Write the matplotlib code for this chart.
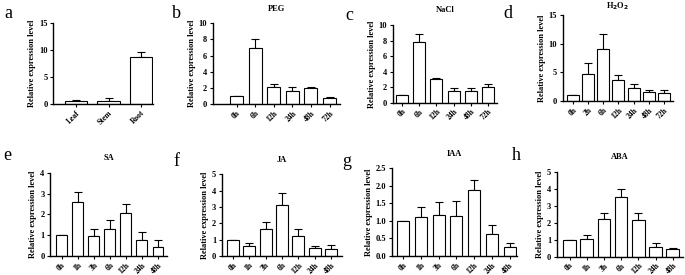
import numpy as np
import matplotlib
matplotlib.use("Agg")
import matplotlib.pyplot as plt

plt.rcParams['font.family'] = ['Liberation Serif', 'DejaVu Serif']

# --- data ---
tissue_labels = ['Leaf', 'Stem', 'Root']
tissue_mean = [0.6, 0.6, 8.65]
tissue_err = [0.1, 0.45, 0.9]

peg_labels = ['0h', '6h', '12h', '24h', '48h', '72h']
peg_mean = [1.0, 7.0, 2.05, 1.55, 1.95, 0.75]
peg_err = [0.0, 1.0, 0.45, 0.5, 0.1, 0.15]

nacl_labels = ['0h', '6h', '12h', '24h', '48h', '72h']
nacl_mean = [1.0, 7.8, 3.05, 1.5, 1.55, 2.0]
nacl_err = [0.0, 1.05, 0.15, 0.45, 0.4, 0.4]

h2o2_labels = ['0h', '2h', '6h', '12h', '24h', '48h', '72h']
h2o2_mean = [1.0, 4.7, 9.1, 3.6, 2.2, 1.5, 1.45]
h2o2_err = [0.0, 1.9, 2.5, 0.9, 0.75, 0.4, 0.45]

hormone_labels = ['0h', '1h', '3h', '6h', '12h', '24h', '48h']
sa_mean = [1.0, 2.57, 0.97, 1.3, 2.08, 0.75, 0.45]
sa_err = [0.0, 0.5, 0.33, 0.45, 0.4, 0.42, 0.3]
ja_mean = [1.0, 0.62, 1.68, 3.15, 1.2, 0.47, 0.4]
ja_err = [0.0, 0.16, 0.42, 0.72, 0.47, 0.15, 0.28]
iaa_mean = [1.0, 1.1, 1.17, 1.15, 1.87, 0.62, 0.25]
iaa_err = [0.0, 0.3, 0.36, 0.43, 0.31, 0.26, 0.13]
aba_mean = [1.0, 1.05, 2.2, 3.5, 2.18, 0.57, 0.47]
aba_err = [0.0, 0.22, 0.35, 0.5, 0.39, 0.23, 0.05]

# panel: letter, title, labels, mean, err, ylim top, y step, tick fmt,
#        axes rect in px (left, top, right, bottom), xlim, bar width, letter pos px, title pad
panels = [
    ('a', '', tissue_labels, tissue_mean, tissue_err, 15, 5, '%d',
     (53, 23, 153, 104), (-0.71, 2.37), 0.68, (4, 13), 9),
    ('b', 'PEG', peg_labels, peg_mean, peg_err, 10, 2, '%d',
     (212.7, 23.3, 340, 104), (-1.28, 5.56), 0.7, (172, 13), 9),
    ('c', 'NaCl', nacl_labels, nacl_mean, nacl_err, 10, 2, '%d',
     (392.7, 25, 497, 102.7), (-0.54, 5.52), 0.7, (345, 15), 9),
    ('d', r'H$_\mathbf{2}$O$_\mathbf{2}$', h2o2_labels, h2o2_mean, h2o2_err, 15, 5, '%d',
     (562.7, 15, 673, 101), (-0.68, 6.6), 0.79, (503, 13), 5),
    ('e', 'SA', hormone_labels, sa_mean, sa_err, 4, 1, '%d',
     (50, 172.7, 167, 256), (-0.72, 6.56), 0.68, (3, 155), 9),
    ('f', 'JA', hormone_labels, ja_mean, ja_err, 5, 1, '%d',
     (221.7, 174.3, 342, 256), (-0.69, 6.67), 0.72, (173, 162), 9),
    ('g', 'IAA', hormone_labels, iaa_mean, iaa_err, 2.5, 0.5, '%.1f',
     (391.7, 168.3, 517, 256), (-0.64, 6.42), 0.68, (342, 162), 9),
    ('h', 'ABA', hormone_labels, aba_mean, aba_err, 5, 1, '%d',
     (556.7, 171.7, 683, 256.7), (-0.75, 6.6), 0.73, (512, 155), 9),
]

W, H = 685, 275
fig = plt.figure(figsize=(W / 100, H / 100), dpi=100)

for letter, title, labels, mean, err, ytop, ystep, fmt, rect, xlim, bw, lpos, tpad in panels:
    l, t, r, b = rect
    ax = fig.add_axes([l / W, 1 - b / H, (r - l) / W, (b - t) / H])
    x = np.arange(len(labels))
    ax.bar(x, mean, width=bw, color='white', edgecolor='black', linewidth=0.8, zorder=2)
    ax.errorbar(x, mean, yerr=[np.zeros(len(err)), err], fmt='none', ecolor='black',
                elinewidth=0.8, capsize=2.8, capthick=0.8, zorder=1)
    ax.set_xlim(*xlim)
    ax.set_ylim(0, ytop)
    ax.set_yticks(np.arange(0, ytop + ystep / 2, ystep))
    ax.yaxis.set_major_formatter(matplotlib.ticker.FormatStrFormatter(fmt))
    ax.set_xticks(x)
    ax.set_xticklabels(labels, rotation=45, ha='right', rotation_mode='anchor')
    for s in ['top', 'right']:
        ax.spines[s].set_visible(False)
    for s in ['left', 'bottom']:
        ax.spines[s].set_linewidth(1.0)
    ax.tick_params(axis='both', width=0.8, length=2.5, pad=1.5)
    ax.tick_params(axis='y', labelsize=6)
    ax.tick_params(axis='x', labelsize=5.5, pad=1)
    for lab in ax.get_xticklabels() + ax.get_yticklabels():
        lab.set_fontweight('bold')
    ax.set_ylabel('Relative expression level', fontsize=6, fontweight='bold', labelpad=2)
    if title:
        ax.set_title(title, fontsize=6, fontweight='bold', pad=tpad)
    fig.text(lpos[0] / W, 1 - lpos[1] / H, letter, fontsize=13, va='center', ha='left')

fig.savefig('out.png', dpi=100)
